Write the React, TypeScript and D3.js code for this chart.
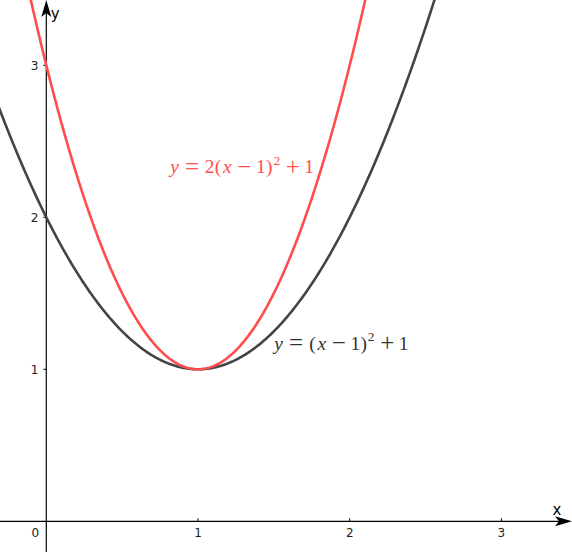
import { useEffect, useRef } from "react";
import * as d3 from "d3";

// parabolas y = a (x - h)^2 + k
const curveNames = ["gray", "red"];
const curveA = [1, 2];
const curveH = [1, 1];
const curveK = [1, 1];
const curveColors = ["#444444", "#ff4d4d"];

const xTicks = [1, 2, 3];
const yTicks = [1, 2, 3];

const W = 572;
const H = 552;

// label pieces: text, italic, box width (em), space before (em), superscript
type Piece = [ string, boolean, number, number, boolean ];
const redLabel: Piece[] = [
    [ "y", true, 0.49, 0, false ], [ "=", false, 0.778, 0.278, false ], [ "2", false, 0.5, 0.278, false ],
    [ "(", false, 0.389, 0, false ], [ "x", true, 0.572, 0, false ], [ "−", false, 0.778, 0.222, false ],
    [ "1", false, 0.5, 0.222, false ], [ ")", false, 0.389, 0, false ], [ "2", false, 0.35, 0.02, true ],
    [ "+", false, 0.778, 0.272, false ], [ "1", false, 0.5, 0.222, false ],
];
const grayLabel: Piece[] = [
    [ "y", true, 0.49, 0, false ], [ "=", false, 0.778, 0.278, false ],
    [ "(", false, 0.389, 0.278, false ], [ "x", true, 0.572, 0, false ], [ "−", false, 0.778, 0.222, false ],
    [ "1", false, 0.5, 0.222, false ], [ ")", false, 0.389, 0, false ], [ "2", false, 0.35, 0.02, true ],
    [ "+", false, 0.778, 0.272, false ], [ "1", false, 0.5, 0.222, false ],
];

export default function App ()
{
    const svgRef = useRef<SVGSVGElement>( null );

    useEffect( () =>
    {
        if ( !svgRef.current ) return;
        const svg = d3.select( svgRef.current );
        svg.selectAll( "*" ).remove();

        const x = d3.scaleLinear().domain( [ 0, 1 ] ).range( [ 46.3, 198 ] );
        const y = d3.scaleLinear().domain( [ 0, 1 ] ).range( [ 521.3, 369.3 ] );
        const x0 = x.invert( -10 ), x1 = x.invert( W + 10 );

        const tickFont = "DejaVu Sans, sans-serif";

        // axes
        svg.append( "line" ).attr( "x1", 0 ).attr( "x2", W - 12 )
            .attr( "y1", y( 0 ) ).attr( "y2", y( 0 ) ).attr( "stroke", "#000" ).attr( "stroke-width", 1.2 );
        svg.append( "path" ).attr( "d", `M${ W },${ y( 0 ) } L${ W - 17 },${ y( 0 ) - 5 } L${ W - 13 },${ y( 0 ) } L${ W - 17 },${ y( 0 ) + 5 } Z` )
            .attr( "fill", "#000" );
        svg.append( "line" ).attr( "x1", x( 0 ) ).attr( "x2", x( 0 ) )
            .attr( "y1", H ).attr( "y2", 12 ).attr( "stroke", "#000" ).attr( "stroke-width", 1.2 );
        svg.append( "path" ).attr( "d", `M${ x( 0 ) },0 L${ x( 0 ) - 5 },17 L${ x( 0 ) },13 L${ x( 0 ) + 5 },17 Z` )
            .attr( "fill", "#000" );

        svg.append( "text" ).attr( "x", W - 15 ).attr( "y", y( 0 ) - 6 ).attr( "text-anchor", "middle" )
            .style( "font-family", tickFont ).style( "font-size", "15px" ).attr( "fill", "#000" ).text( "x" );
        svg.append( "text" ).attr( "x", x( 0 ) + 9 ).attr( "y", 19 ).attr( "text-anchor", "middle" )
            .style( "font-family", tickFont ).style( "font-size", "15px" ).attr( "fill", "#000" ).text( "y" );

        // ticks
        const tg = svg.append( "g" ).style( "font-family", tickFont ).style( "font-size", "12px" ).attr( "fill", "#222" );
        xTicks.forEach( t =>
        {
            tg.append( "line" ).attr( "x1", x( t ) ).attr( "x2", x( t ) ).attr( "y1", y( 0 ) - 3 ).attr( "y2", y( 0 ) )
                .attr( "stroke", "#000" );
            tg.append( "text" ).attr( "x", x( t ) ).attr( "y", y( 0 ) + 16 ).attr( "text-anchor", "middle" ).text( String( t ) );
        } );
        tg.append( "text" ).attr( "x", x( 0 ) - 11 ).attr( "y", y( 0 ) + 16 ).attr( "text-anchor", "middle" ).text( "0" );
        yTicks.forEach( t =>
        {
            tg.append( "line" ).attr( "x1", x( 0 ) - 3 ).attr( "x2", x( 0 ) ).attr( "y1", y( t ) ).attr( "y2", y( t ) )
                .attr( "stroke", "#000" );
            tg.append( "text" ).attr( "x", x( 0 ) - 8 ).attr( "y", y( t ) + 4.5 ).attr( "text-anchor", "end" ).text( String( t ) );
        } );

        // curves
        const xs = d3.range( x0, x1, 0.01 ).concat( [ x1 ] );
        const line = d3.line<[ number, number ]>().x( d => x( d[ 0 ] ) ).y( d => y( d[ 1 ] ) ).curve( d3.curveLinear );
        curveNames.forEach( ( name, i ) =>
        {
            const pts = xs.map( v => [ v, curveA[ i ] * ( v - curveH[ i ] ) ** 2 + curveK[ i ] ] as [ number, number ] )
                .filter( p => p[ 1 ] < 4 );
            svg.append( "path" ).attr( "class", name ).attr( "d", line( pts ) as string )
                .attr( "fill", "none" ).attr( "stroke", curveColors[ i ] ).attr( "stroke-width", 2.6 )
                .attr( "stroke-linejoin", "round" );
        } );

        // equation labels, laid out on TeX-like boxes
        const mathFont = "Liberation Serif, Times New Roman, serif";
        const em = 19.1;
        const addLabel = ( lx: number, ly: number, pieces: Piece[], color: string ) =>
        {
            const g = svg.append( "g" ).attr( "fill", color ).style( "font-family", mathFont );
            let cx = lx;
            pieces.forEach( ( [ s, it, w, sp, sup ] ) =>
            {
                cx += sp * em;
                const op = s === "=" || s === "+" || s === "−";
                g.append( "text" ).attr( "x", cx + w * em / 2 ).attr( "y", sup ? ly - 8.5 : ly )
                    .attr( "text-anchor", "middle" )
                    .style( "font-style", it ? "italic" : "normal" )
                    .style( "font-size", sup ? "13.5px" : op ? "25px" : "19.5px" )
                    .attr( "dy", op ? 1.5 : 0 )
                    .text( s );
                cx += w * em;
            } );
        };
        addLabel( 170, 173, redLabel, curveColors[ 1 ] );
        addLabel( 274, 349.5, grayLabel, "#333" );
    }, [] );

    return (
        <div style={ { position: "fixed", left: 0, top: 0, background: "#fff" } }>
            <svg ref={ svgRef } width={ W } height={ H } style={ { display: "block" } } />
        </div>
    );
}
